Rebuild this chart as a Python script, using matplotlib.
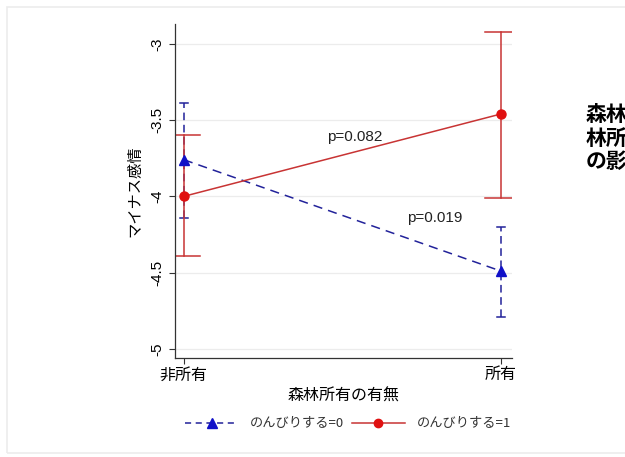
import numpy as np
import matplotlib.pyplot as plt
from matplotlib.patches import Rectangle
from matplotlib.lines import Line2D

plt.rcParams['font.family'] = ['Noto Sans CJK JP', 'DejaVu Sans']

groups = ['非所有', '所有']
xpos = np.array([0, 1])

# のんびりする=0
mean0 = [-3.76, -4.49]
lo0 = [-4.14, -4.79]
hi0 = [-3.39, -4.20]

# のんびりする=1
mean1 = [-4.00, -3.46]
lo1 = [-4.39, -4.01]
hi1 = [-3.60, -2.92]

yticks = [-5, -4.5, -4, -3.5, -3]
ytick_labels = ['-5', '-4.5', '-4', '-3.5', '-3']

pvals = ['p=0.082', 'p=0.019']
pval_pos = [(0.54, -3.61), (0.79, -4.14)]

BLUE = '#22229a'
RED = '#c83434'
NUMFONT = ['Liberation Sans', 'DejaVu Sans']

fig = plt.figure(figsize=(6.25, 4.57), dpi=100)
fig.patches.append(Rectangle((7 / 625, 4 / 457), 1.2, 446 / 457, transform=fig.transFigure,
                             fill=False, edgecolor='#ececec', lw=1.2))

ax = fig.add_axes([175 / 625, 1 - 358 / 457, (512 - 175) / 625, (358 - 24) / 457])

for y in yticks:
    ax.axhline(y, color='#ececec', lw=0.9, zorder=0)

def errbars(means, lo, hi, color, ls, cap):
    for x, m, l, h in zip(xpos, means, lo, hi):
        ax.plot([x, x], [l, h], color=color, ls=ls, lw=1.1, zorder=2)
        for v in (l, h):
            ax.plot([x - cap, x + cap], [v, v], color=color, lw=1.1, zorder=2)

errbars(mean0, lo0, hi0, BLUE, (0, (5, 3)), 0.012)
errbars(mean1, lo1, hi1, RED, '-', 0.05)

ax.plot(xpos, mean0, color=BLUE, ls=(0, (6, 4)), lw=1.1, marker='^', ms=7.5,
        markerfacecolor='#1010c8', markeredgecolor='#1010c8', zorder=3)
ax.plot(xpos, mean1, color=RED, ls='-', lw=1.1, marker='o', ms=6.5,
        markerfacecolor='#e01010', markeredgecolor='#e01010', zorder=3)

for txt, (x, y) in zip(pvals, pval_pos):
    ax.text(x, y, txt, fontsize=11, ha='center', va='center', color='#222222',
            family=NUMFONT, zorder=4)

ax.set_xlim(-0.028, 1.035)
ax.set_ylim(-5.06, -2.87)
ax.set_xticks(xpos)
ax.set_xticklabels(groups, fontsize=11.5)
ax.set_yticks(yticks)
ax.set_yticklabels(ytick_labels, fontsize=11, rotation=90, va='center', family=NUMFONT)
ax.tick_params(axis='both', direction='out', length=4, width=0.8, color='#333333')
ax.tick_params(axis='x', pad=2)
ax.spines['top'].set_visible(False)
ax.spines['right'].set_visible(False)
for s in ('left', 'bottom'):
    ax.spines[s].set_linewidth(0.9)
    ax.spines[s].set_color('#333333')

ax.set_ylabel('マイナス感情', fontsize=11, labelpad=5)
ax.set_xlabel('森林所有の有無', fontsize=11.5, labelpad=3)

handles = [
    Line2D([], [], color=BLUE, ls=(0, (4, 3)), lw=1.1, marker='^', ms=6.5,
           markerfacecolor='#1010c8', markeredgecolor='#1010c8'),
    Line2D([], [], color=RED, ls='-', lw=1.1, marker='o', ms=6,
           markerfacecolor='#e01010', markeredgecolor='#e01010'),
]
fig.legend(handles, ['のんびりする=0', 'のんびりする=1'], loc='center',
           bbox_to_anchor=(348 / 625, 1 - 424 / 457), ncol=2, frameon=False,
           fontsize=9.5, handlelength=4.0, columnspacing=0.6, handletextpad=0.9,
           labelcolor='#333333')

fig.text(586 / 625, 1 - 138 / 457, '森林所有\n林所有者\nの影響', fontsize=15,
         fontweight='bold', ha='left', va='center', linespacing=1.15)

fig.savefig('out.png', dpi=100, facecolor='white')
